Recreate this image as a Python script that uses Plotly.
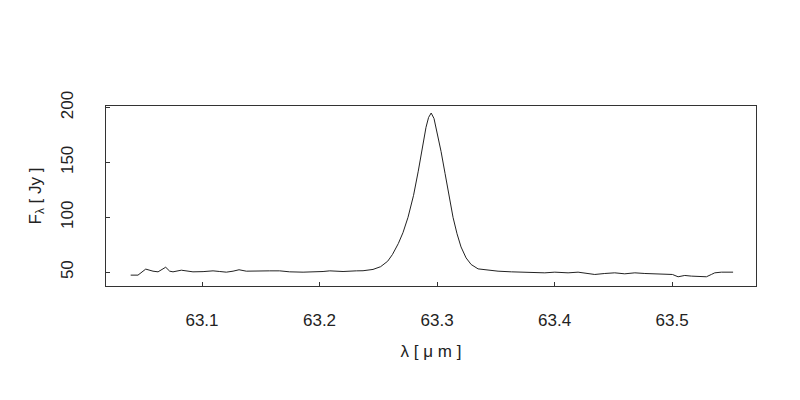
import plotly.graph_objects as go

wavelength = [
    63.0393, 63.0455, 63.0521, 63.0583, 63.0626, 63.0668, 63.0691, 63.0725,
    63.0753, 63.0824, 63.0867, 63.0923, 63.1009, 63.1094, 63.1151, 63.1207,
    63.1264, 63.1315, 63.1377, 63.1462, 63.1576, 63.1661, 63.1746, 63.1860,
    63.1973, 63.2030, 63.2087, 63.2200, 63.2313, 63.2370, 63.2455, 63.2520,
    63.2580, 63.2620, 63.2670, 63.2710, 63.2753, 63.2800, 63.2840, 63.2872,
    63.2906, 63.2928, 63.2950, 63.2974, 63.3000, 63.3034, 63.3068, 63.3102,
    63.3136, 63.3170, 63.3204, 63.3247, 63.3290, 63.3349, 63.3434, 63.3519,
    63.3632, 63.3774, 63.3917, 63.4002, 63.4115, 63.4200, 63.4285, 63.4342,
    63.4427, 63.4512, 63.4597, 63.4683, 63.4768, 63.4853, 63.4938, 63.5003,
    63.5051, 63.5108, 63.5164, 63.5221, 63.5292, 63.5334, 63.5363, 63.5419,
    63.5519,
]

flux = [
    47.3, 47.3, 52.8, 50.9, 50.3, 52.8, 54.5, 50.9,
    50.3, 51.8, 50.9, 50.3, 50.5, 51.2, 50.6, 50.0,
    50.9, 52.2, 50.9, 51.2, 51.2, 51.2, 50.3, 50.0,
    50.0, 50.6, 51.2, 50.6, 51.2, 51.3, 52.5, 55.0,
    60.0, 66.0, 76.0, 86.0, 100.0, 120.0, 142.0, 162.0,
    182.0, 191.0, 195.0, 190.0, 178.0, 160.0, 140.0, 118.0,
    100.0, 85.0, 73.0, 63.0, 57.0, 53.0, 51.8, 50.9,
    50.3, 50.0, 49.4, 50.0, 49.4, 50.0, 48.8, 47.9,
    48.8, 49.4, 48.5, 49.4, 48.8, 48.5, 48.5, 47.9,
    45.8, 47.0, 46.4, 46.1, 45.8, 47.9, 49.4, 50.0,
    50.0,
]

x_ticks = [63.1, 63.2, 63.3, 63.4, 63.5]
y_ticks = [50, 100, 150, 200]

font_family = "Liberation Sans, Arial, sans-serif"
axis_color = "#333333"

fig = go.Figure()
fig.add_trace(go.Scatter(
    x=wavelength, y=flux, mode="lines",
    line=dict(color="#222222", width=1),
    showlegend=False, hoverinfo="skip",
))

fig.update_layout(
    width=800, height=400,
    paper_bgcolor="white", plot_bgcolor="white",
    margin=dict(l=98, r=52, t=98, b=122),
    font=dict(family=font_family, size=17, color="#222222"),
    xaxis=dict(
        range=[63.0183, 63.5714],
        tickvals=x_ticks, ticktext=[f"{v:.1f}" for v in x_ticks],
        ticks="inside", ticklen=4, tickcolor=axis_color, tickwidth=1,
        showline=True, linecolor=axis_color, linewidth=1, mirror=True,
        showgrid=False, zeroline=False,
        ticklabelstandoff=19,
        title=dict(text="λ [ μ m ]", standoff=15, font=dict(size=17)),
        automargin=False,
    ),
    yaxis=dict(
        range=[37.4, 201.4],
        tickvals=y_ticks, ticktext=[str(v) for v in y_ticks],
        tickangle=-90,
        ticks="inside", ticklen=4, tickcolor=axis_color, tickwidth=1,
        showline=True, linecolor=axis_color, linewidth=1, mirror=True,
        showgrid=False, zeroline=False,
        ticklabelstandoff=25,
        title=dict(text="F<sub>λ</sub> [ Jy ]", standoff=12, font=dict(size=17)),
        automargin=False,
    ),
)

fig.write_html("out.html")
